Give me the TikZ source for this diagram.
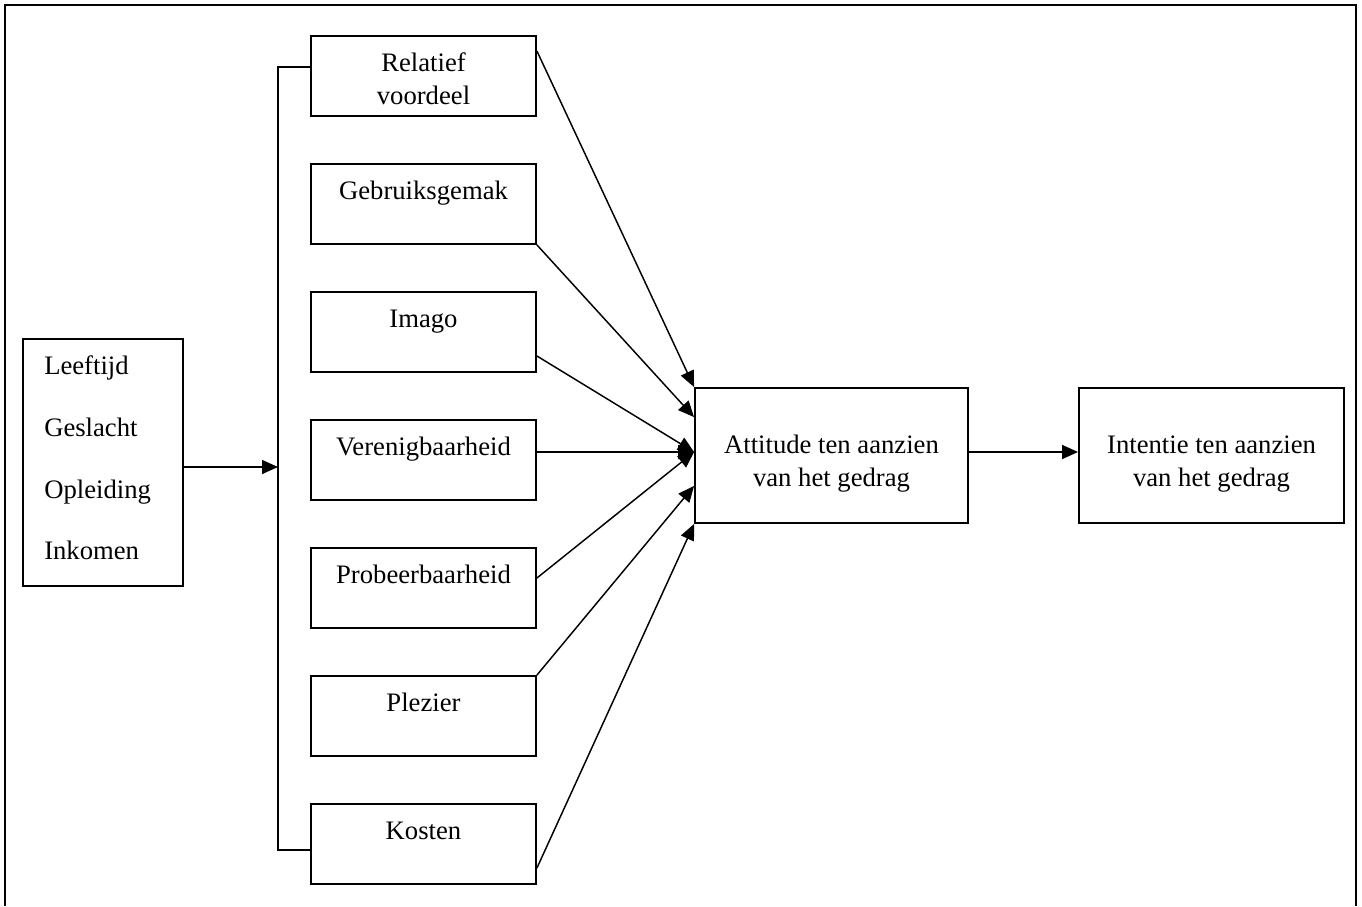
\documentclass[tikz,border=0pt]{standalone}
\usepackage{fontspec}
\setmainfont{Liberation Serif}
\usetikzlibrary{arrows.meta,calc}
\begin{document}
\begin{tikzpicture}[x=0.75pt,y=-0.75pt,
  box/.style={draw,line width=1.4pt,minimum width=168.75pt,minimum height=60pt,inner sep=0pt},
  txt/.style={font=\fontsize{20pt}{24.75pt}\selectfont,inner sep=0pt,align=center},
  conn/.style={line width=1.1pt,-{Triangle[length=12pt,width=10.5pt]}},
  plain/.style={line width=1.1pt}]
\useasboundingbox (0,0) rectangle (1362,906);
% frame
\draw[line width=1.5pt] (5,906) -- (5,5) -- (1356,5) -- (1356,906);
% factor boxes
\node[box] (rel) at (423.5,76) {};
\node[box] (geb) at (423.5,204) {};
\node[box] (ima) at (423.5,332) {};
\node[box] (ver) at (423.5,460) {};
\node[box] (pro) at (423.5,588) {};
\node[box] (ple) at (423.5,716) {};
\node[box] (kos) at (423.5,844) {};
\node[txt] (relt) at (423.5,79) {Relatief\\voordeel};
\node[txt,anchor=base] (gebt) at (423.5,199) {Gebruiksgemak};
\node[txt,anchor=base] (imat) at (423.5,327) {Imago};
\node[txt,anchor=base] (vert) at (423.5,455) {Verenigbaarheid};
\node[txt,anchor=base] (prot) at (423.5,583) {Probeerbaarheid};
\node[txt,anchor=base] (plet) at (423.5,711) {Plezier};
\node[txt,anchor=base] (kost) at (423.5,839) {Kosten};
% left box
\node[draw,line width=1.4pt,minimum width=120pt,minimum height=185.25pt,inner sep=0pt] (lft) at (103,462.5) {};
\node[txt,anchor=base west] (l1) at (44,374) {Leeftijd};
\node[txt,anchor=base west] (l2) at (44,436) {Geslacht};
\node[txt,anchor=base west] (l3) at (44,498) {Opleiding};
\node[txt,anchor=base west] (l4) at (44,559) {Inkomen};
% attitude and intention
\node[draw,line width=1.4pt,minimum width=204.75pt,minimum height=101.25pt,inner sep=0pt] (att) at (831.5,455.5) {};
\node[txt] (attt) at (831.5,464) {Attitude ten aanzien\\van het gedrag};
\node[draw,line width=1.4pt,minimum width=198.75pt,minimum height=101.25pt,inner sep=0pt] (int) at (1211.5,455.5) {};
\node[txt] (intt) at (1211.5,464) {Intentie ten aanzien\\van het gedrag};
% bracket
\coordinate (bt) at (278,67);
\coordinate (bb) at (278,850);
\coordinate (bm) at (278,467);
\draw[plain] (rel.west |- bt) -- (bt) -- (bb) -- (kos.west |- bb);
\draw[conn] (lft.east |- bm) -- (bm);
% connectors to attitude
\coordinate (hub) at ($(att.west)+(0,-3.5)$);
\draw[conn] ($(rel.north east)+(0,16)$) -- (att.north west);
\draw[conn] (geb.south east) -- ($(att.north west)+(0,30)$);
\draw[conn] ($(ima.east)+(0,24)$) -- (hub);
\draw[conn] ($(ver.east)+(0,-8)$) -- (hub);
\draw[conn] ($(pro.east)+(0,-10)$) -- (hub);
\draw[conn] (ple.north east) -- ($(att.south west)+(0,-38)$);
\draw[conn] ($(kos.east)+(0,24)$) -- (att.south west);
% attitude to intention
\draw[conn] (hub -| att.east) -- (hub -| int.west);
\end{tikzpicture}
\end{document}
